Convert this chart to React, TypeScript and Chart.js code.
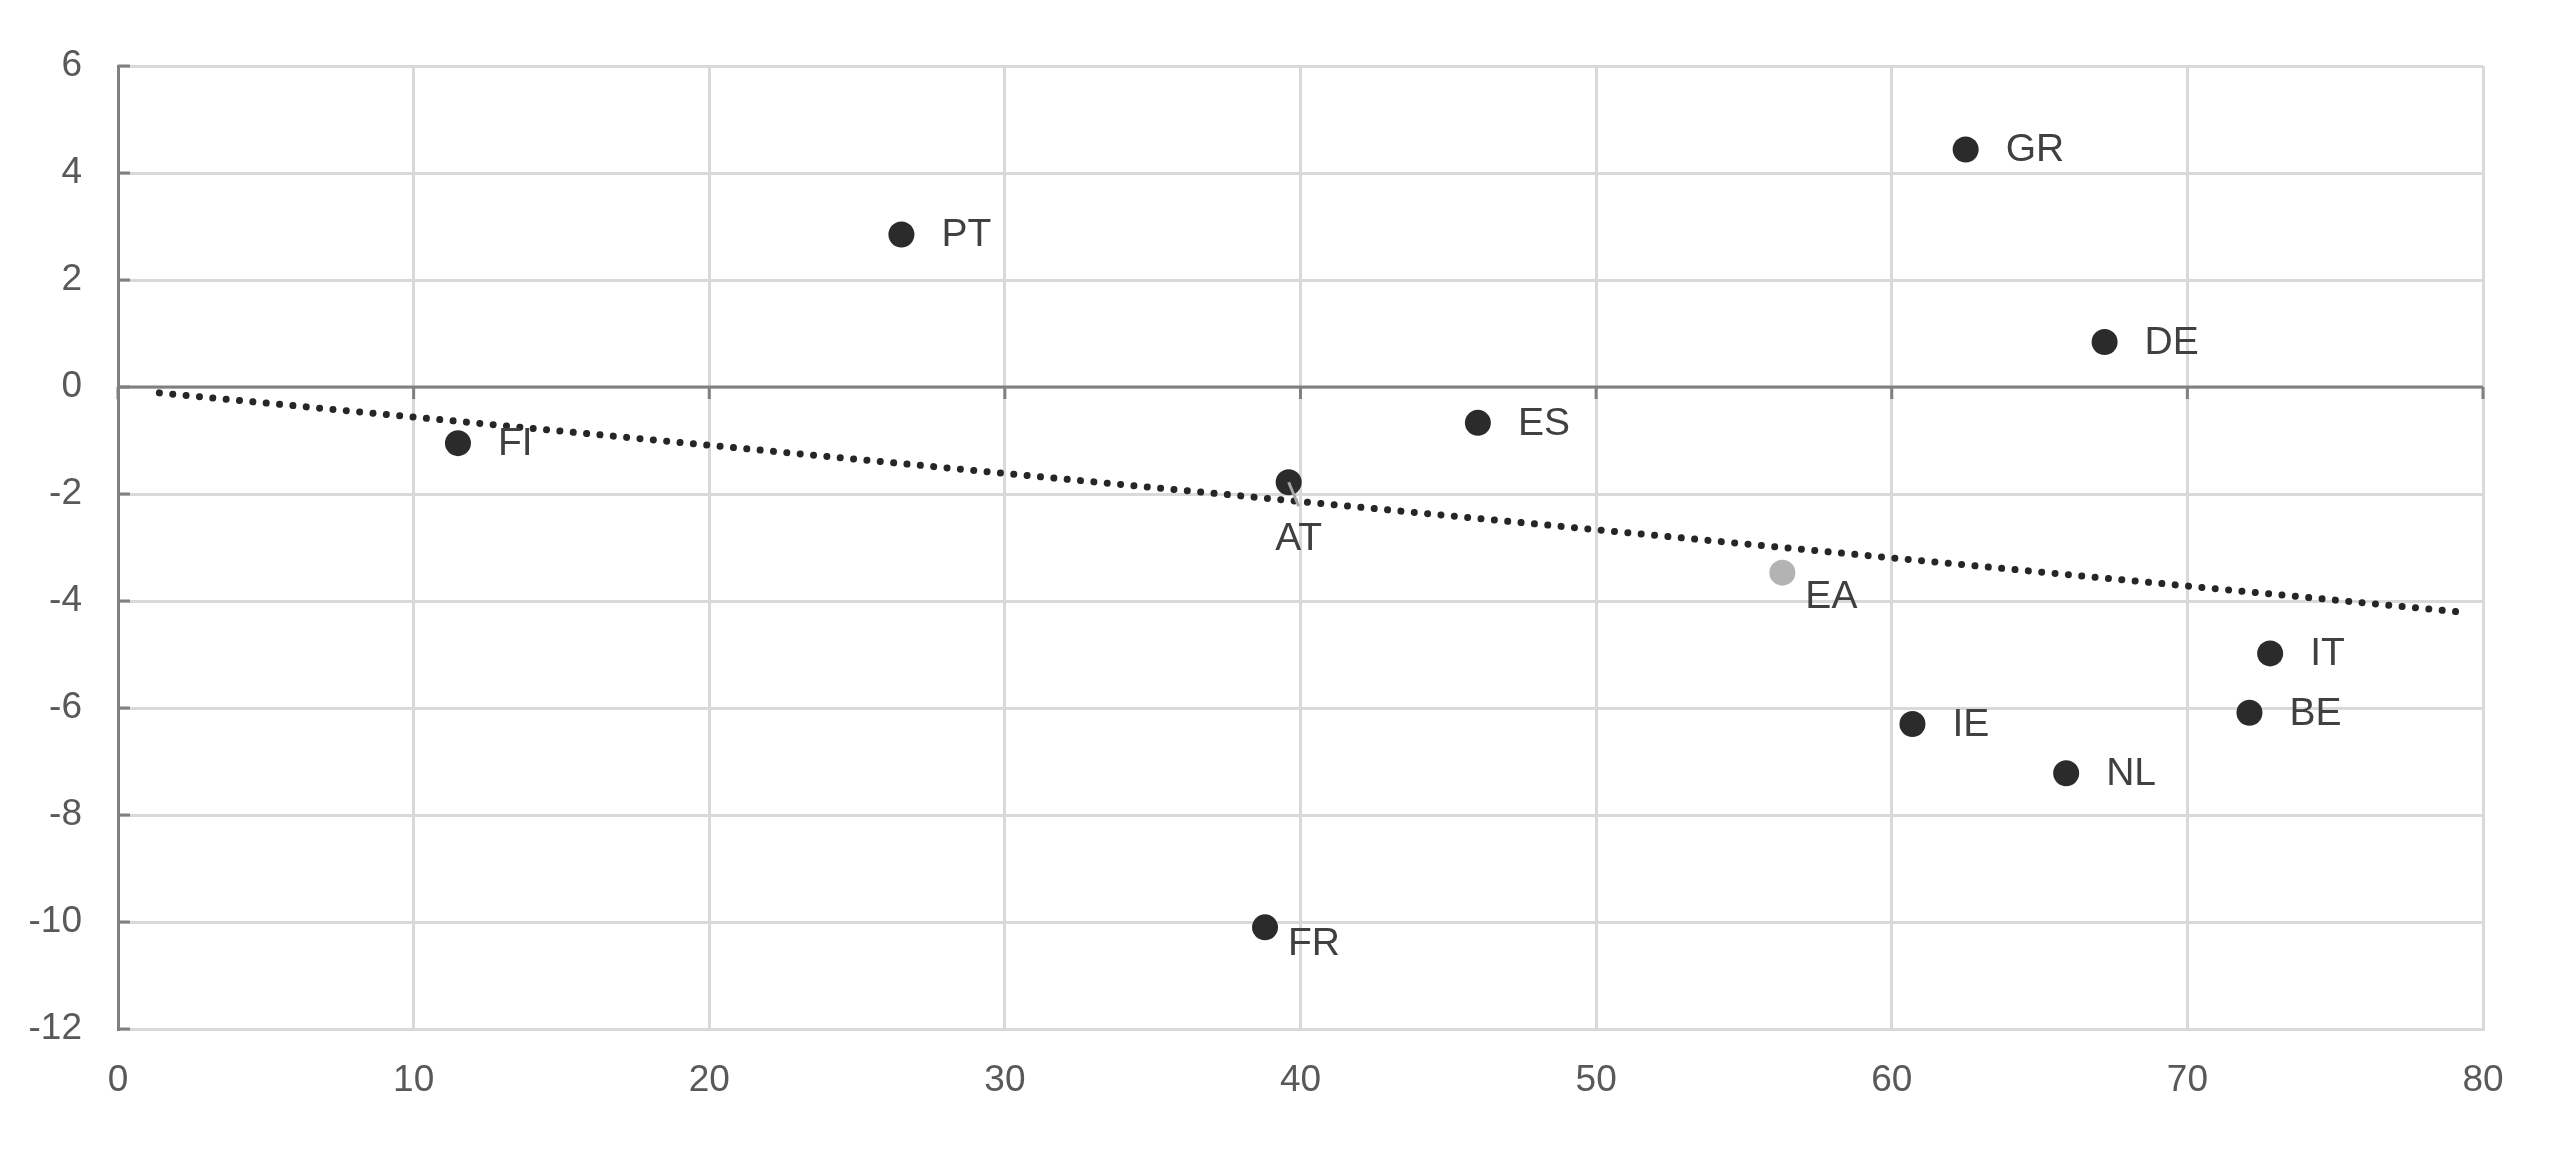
import { useEffect, useRef } from "react"
import { Chart, registerables, type ChartConfiguration, type Plugin } from "chart.js"

Chart.register(...registerables)

const countries = ["PT", "GR", "DE", "FI", "ES", "AT", "EA", "IT", "BE", "IE", "NL", "FR"]
const xValues = [26.5, 62.5, 67.2, 11.5, 46.0, 39.6, 56.3, 72.8, 72.1, 60.7, 65.9, 38.8]
const yValues = [2.85, 4.44, 0.84, -1.05, -0.67, -1.78, -3.47, -4.98, -6.09, -6.3, -7.22, -10.1]

const trendX = [1.4, 79.5]
const trendY = [-0.11, -4.22]

const xTicks = [0, 10, 20, 30, 40, 50, 60, 70, 80]
const yTicks = [-12, -10, -8, -6, -4, -2, 0, 2, 4, 6]

const FONT = "'Liberation Sans', Arial, sans-serif"
const AXIS = "#808080"
const GRID = "#d9d9d9"

// where each label sits relative to its point
const placement: Record<string, string> = { AT: "below", EA: "belowRight", FR: "belowRight" }

const axisTicks: Plugin = {
  id: "axisTicks",
  beforeDatasetsDraw(chart) {
    const { ctx, chartArea } = chart
    const x = chart.scales.x
    const y = chart.scales.y
    const zero = y.getPixelForValue(0)
    ctx.save()
    ctx.strokeStyle = AXIS
    ctx.lineWidth = 3
    ctx.beginPath()
    ctx.moveTo(chartArea.left, zero)
    ctx.lineTo(chartArea.right, zero)
    ctx.stroke()
    ctx.beginPath()
    for (const v of xTicks) {
      const px = x.getPixelForValue(v)
      ctx.moveTo(px, zero)
      ctx.lineTo(px, zero + 12)
    }
    for (const v of yTicks) {
      const py = y.getPixelForValue(v)
      ctx.moveTo(chartArea.left, py)
      ctx.lineTo(chartArea.left + 12, py)
    }
    ctx.stroke()
    ctx.restore()
  },
}

const pointLabels: Plugin = {
  id: "pointLabels",
  afterDatasetsDraw(chart) {
    const { ctx } = chart
    const meta = chart.getDatasetMeta(1)
    ctx.save()
    ctx.font = `39px ${FONT}`
    ctx.fillStyle = "#404040"
    meta.data.forEach((el, i) => {
      const name = countries[i]
      const { x, y } = el.getProps(["x", "y"], true) as { x: number; y: number }
      const mode = placement[name]
      if (mode === "below") {
        ctx.strokeStyle = "#a6a6a6"
        ctx.lineWidth = 3
        ctx.beginPath()
        ctx.moveTo(x, y)
        ctx.lineTo(x + 10, y + 24)
        ctx.stroke()
        ctx.textAlign = "center"
        ctx.textBaseline = "middle"
        ctx.fillText(name, x + 10, y + 57)
      } else if (mode === "belowRight") {
        ctx.textAlign = "left"
        ctx.textBaseline = "middle"
        ctx.fillText(name, x + 23, y + (name === "EA" ? 25 : 17))
      } else {
        ctx.textAlign = "left"
        ctx.textBaseline = "middle"
        ctx.fillText(name, x + 40, y + 1)
      }
    })
    ctx.restore()
  },
}

export default function App() {
  const canvasRef = useRef<HTMLCanvasElement>(null)
  const chartRef = useRef<Chart | null>(null)

  useEffect(() => {
    if (!canvasRef.current) return
    if (chartRef.current) chartRef.current.destroy()

    const config: ChartConfiguration = {
      type: "scatter",
      data: {
        datasets: [
          {
            type: "line",
            data: trendX.map((x, i) => ({ x, y: trendY[i] })),
            borderColor: "#262626",
            borderWidth: 7,
            borderDash: [0.01, 13.4],
            borderCapStyle: "round",
            pointRadius: 0,
            fill: false,
          },
          {
            data: xValues.map((x, i) => ({ x, y: yValues[i] })),
            backgroundColor: countries.map((c) => (c === "EA" ? "#b3b3b3" : "#2b2b2b")),
            borderWidth: 0,
            pointRadius: 13,
          },
        ],
      },
      options: {
        responsive: true,
        maintainAspectRatio: false,
        animation: false,
        layout: { padding: { top: 66, right: 77, left: 0, bottom: 0 } },
        plugins: { legend: { display: false }, tooltip: { enabled: false } },
        scales: {
          x: {
            type: "linear",
            min: 0,
            max: 80,
            afterFit: (s) => {
              s.height = 120
            },
            afterBuildTicks: (s) => {
              s.ticks = xTicks.map((value) => ({ value }))
            },
            grid: { color: GRID, lineWidth: 3, drawTicks: false },
            border: { color: GRID, width: 3 },
            ticks: { padding: 30, color: "#595959", font: { family: FONT, size: 37 } },
          },
          y: {
            type: "linear",
            min: -12,
            max: 6,
            afterFit: (s) => {
              s.width = 118
            },
            afterBuildTicks: (s) => {
              s.ticks = yTicks.map((value) => ({ value }))
            },
            grid: { color: GRID, lineWidth: 3, drawTicks: false },
            border: { color: AXIS, width: 3 },
            ticks: { padding: 36, color: "#595959", font: { family: FONT, size: 37 } },
          },
        },
      },
      plugins: [axisTicks, pointLabels],
    }

    chartRef.current = new Chart(canvasRef.current, config)

    return () => {
      if (chartRef.current) {
        chartRef.current.destroy()
        chartRef.current = null
      }
    }
  }, [])

  return (
    <div style={{ position: "fixed", left: 0, top: 0, width: 2560, height: 1149, background: "#fff" }}>
      <canvas ref={canvasRef}></canvas>
    </div>
  )
}
